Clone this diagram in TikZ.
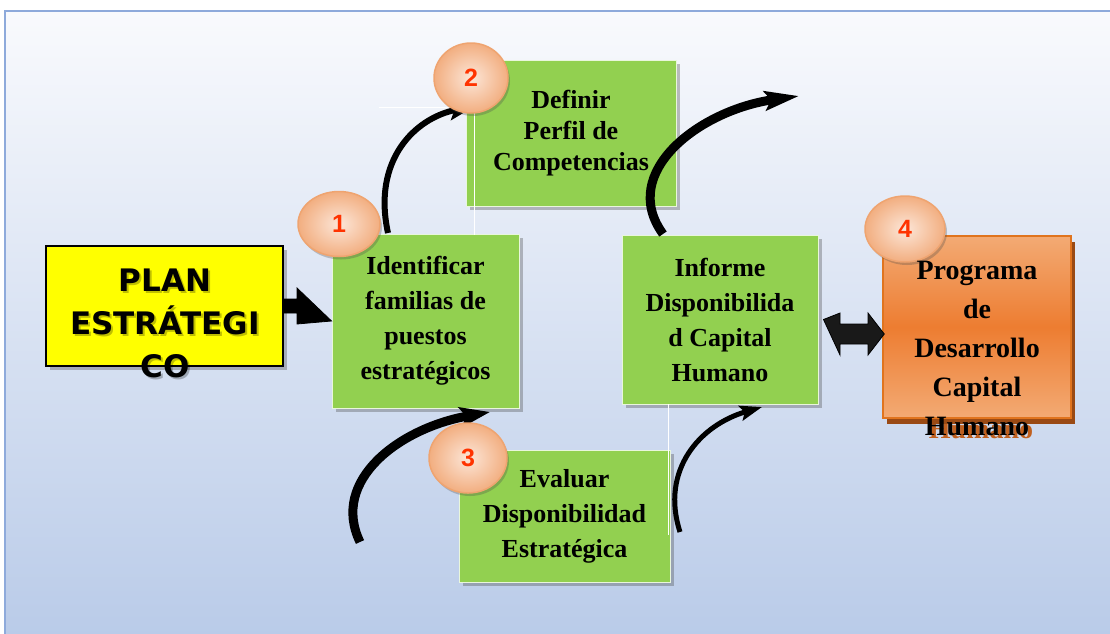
\documentclass[tikz,border=0pt]{standalone}
\usepackage{fontspec}
\usetikzlibrary{shapes.geometric,shadows,arrows.meta,calc}
\newfontfamily\serifB{Liberation Serif}
\newfontfamily\dvsans{DejaVu Sans}
\newfontfamily\lsans{Liberation Sans}
\definecolor{gfill}{HTML}{92D050}
\definecolor{bgT}{HTML}{F9FAFD}
\definecolor{bgB}{HTML}{B8CAE8}
\definecolor{frameC}{HTML}{8EAADB}
\definecolor{peachL}{HTML}{FCE6D8}
\definecolor{peachD}{HTML}{F2AE80}
\definecolor{peachB}{HTML}{EFA470}
\definecolor{numC}{HTML}{FF3300}
\definecolor{orL}{HTML}{F3AA74}
\definecolor{orM}{HTML}{ED7D31}
\definecolor{orB}{HTML}{E0741E}
\definecolor{orS}{HTML}{9A4A14}
\definecolor{orT}{HTML}{C0601F}
\definecolor{yel}{HTML}{FFFF00}
\begin{document}
\begin{tikzpicture}[x=1pt,y=-1pt,
  gbox/.style={rectangle, fill=gfill, draw=white!80!gfill, line width=1pt, inner sep=0pt, align=center,
    drop shadow={shadow xshift=4pt, shadow yshift=-4pt, opacity=0.35, fill=black!70},
    font=\serifB\bfseries\fontsize{26}{35}\selectfont},
  numcirc/.style={ellipse, inner sep=0pt, draw=peachB, line width=1.5pt, inner color=peachL, outer color=peachD,
    drop shadow={shadow xshift=2pt, shadow yshift=-3pt, opacity=0.3, fill=black!70},
    font=\lsans\bfseries\fontsize{25}{25}\selectfont, text=numC},
  carrow/.style={line width=#1},
  wline/.style={draw=white, line width=1pt},
  blockarrow/.style={fill=black, draw=black, line width=0.8pt, line join=miter}
]
\useasboundingbox (0,0) rectangle (1110,633);
% background frame
\begin{scope}
\clip (0,0) rectangle (1110,633);
\shade[top color=bgT, bottom color=bgB] (5,11) rectangle (1120,650);
\draw[frameC, line width=2pt] (5,11) rectangle (1120,650);
\end{scope}

% yellow box
\node[rectangle, fill=yel, draw=black, line width=1.5pt, minimum width=237pt, minimum height=120pt,
  drop shadow={shadow xshift=4pt, shadow yshift=-4pt, opacity=0.35, fill=black!70}] (plan) at (164.5,306) {};

% green boxes
\node[gbox, minimum width=187pt, minimum height=174pt] (b1) at (425.5,321)
  {Identificar\\familias de\\puestos\\estratégicos};
\node[gbox, minimum width=210pt, minimum height=146pt, font=\serifB\bfseries\fontsize{26}{31}\selectfont] (b2) at (571,133)
  {Definir\\Perfil de\\Competencias};
\node[gbox, minimum width=196pt, minimum height=169pt] (b4) at (720,319.5)
  {Informe\\Disponibilida\\d Capital\\Humano};
\node[gbox, minimum width=211pt, minimum height=132pt] (b3) at (564.5,516)
  {Evaluar\\Disponibilidad\\Estratégica};

% shadow of the orange box's text (seen only below the box)
\node[anchor=north, inner sep=0pt, align=center, text=orT,
  font=\serifB\bfseries\fontsize{28}{39}\selectfont] at (981,264.3) {Programa\\de\\Desarrollo\\Capital\\Humano};

% orange box
\node[rectangle, top color=orL, bottom color=orL, middle color=orM, draw=orB, line width=1.5pt,
  minimum width=188pt, minimum height=182pt,
  drop shadow={shadow xshift=4pt, shadow yshift=-6pt, opacity=1, fill=orS}] (prog) at (977,327) {};

% thin white connector lines
\draw[wline] (379,107) -- (474,107) -- (474,235);
\draw[wline] (668,404) -- (668,535);

% block arrows
\draw[blockarrow] (plan.east) ++(0,-7) -- (297,299) -- (297,288) -- (b1.west) -- (297,324) -- (297,313) -- ($(plan.east)+(0,7)$) -- cycle;
\draw[blockarrow, fill=black!90] (b4.east) ++(5,0) -- (840,313) -- (840,324) -- (868,324) -- (868,313)
  -- ($(prog.west)+(2,7)$) -- (868,355) -- (868,344) -- (840,344) -- (840,355) -- cycle;

% curved arrows
\coordinate (a1s) at (388,233);
\coordinate (a1e) at (475,106);
\coordinate (a2s) at (663,234);
\coordinate (a2e) at (799,96);
\coordinate (a3s) at (360,542);
\coordinate (a3e) at (490,412);
\coordinate (a4s) at (680,532);
\coordinate (a4e) at (762,407);
\draw[carrow=6pt, -{Stealth[length=26pt, width=18pt, inset=5pt]}] (a1s) .. controls (372,160) and (415,118) .. (a1e);
\draw[carrow=9pt, -{Stealth[length=34pt, width=19pt, inset=6pt]}] (a2s) .. controls (618,172) and (700,110) .. (a2e);
\draw[carrow=9pt, -{Stealth[length=30pt, width=20pt, inset=6pt]}] (a3s) .. controls (330,480) and (400,428) .. (a3e);
\draw[carrow=5pt, -{Stealth[length=22pt, width=15pt, inset=4pt]}] (a4s) .. controls (660,470) and (700,425) .. (a4e);

% number circles
\node[numcirc, minimum width=82pt, minimum height=65pt] (c1) at (339,224) {1};
\node[numcirc, minimum width=74pt, minimum height=70pt] (c2) at (471,78) {2};
\node[numcirc, minimum width=78pt, minimum height=70pt] (c3) at (468,458) {3};
\node[numcirc, minimum width=80pt, minimum height=66pt] (c4) at (905,229) {4};

% overflowing texts
\node[anchor=north, inner sep=0pt, align=center, text=black, opacity=0.25,
  font=\dvsans\bfseries\fontsize{31}{43}\selectfont] at (167,270.4) {PLAN\\ESTRÁTEGI\\CO};
\node[anchor=north, inner sep=0pt, align=center,
  font=\dvsans\bfseries\fontsize{31}{43}\selectfont] (plantext) at (165,268.4) {PLAN\\ESTRÁTEGI\\CO};
\node[anchor=north, inner sep=0pt, align=center,
  font=\serifB\bfseries\fontsize{28}{39}\selectfont] (progtext) at (977,260.8) {Programa\\de\\Desarrollo\\Capital\\Humano};
\end{tikzpicture}
\end{document}
